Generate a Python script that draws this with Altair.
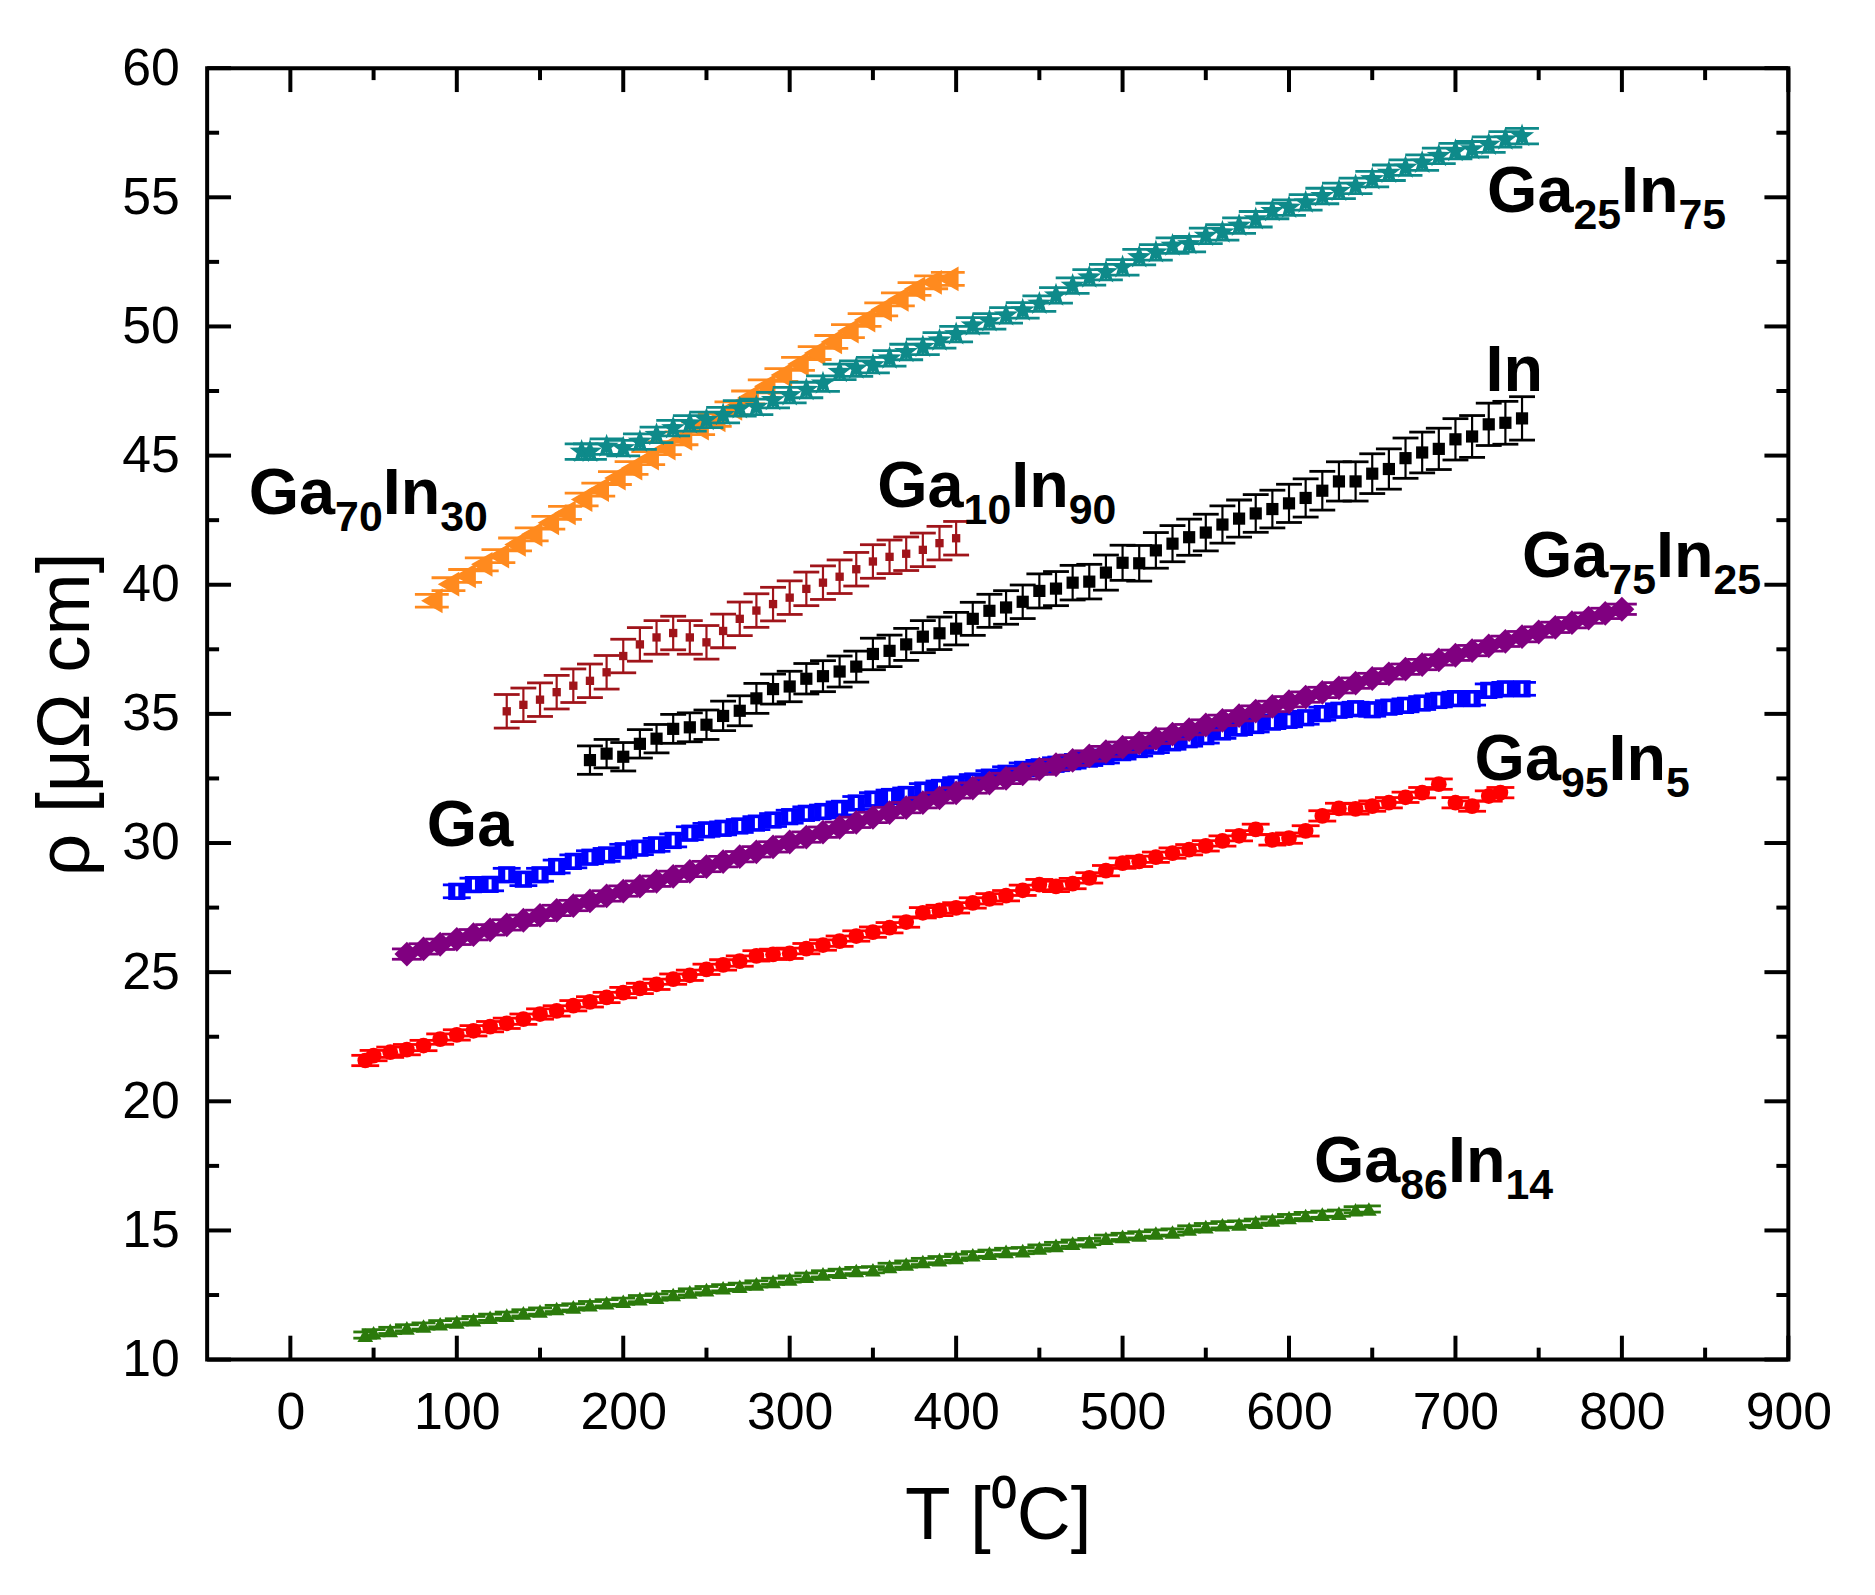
import altair as alt
import pandas as pd

# ---------------- data ----------------
T_GA70IN30 = [85, 95, 105, 115, 125, 135, 145, 155, 165, 175, 185, 195, 205, 215, 225, 235,
              245, 255, 265, 275, 285, 295, 305, 315, 325, 335, 345, 355, 365, 375, 385, 395]
R_GA70IN30 = [39.38, 40.02, 40.34, 40.79, 41.11, 41.56, 41.95, 42.40, 42.78, 43.30, 43.68, 44.13,
              44.52, 44.90, 45.29, 45.67, 46.06, 46.38, 46.83, 47.25, 47.68, 48.12, 48.55, 48.97,
              49.40, 49.82, 50.25, 50.66, 51.05, 51.45, 51.71, 51.84]
E_GA70IN30 = 0.25

T_GA25IN75 = [175, 180, 190, 200, 210, 220, 230, 240, 250, 260, 270, 280, 290, 300, 310, 320, 330,
              340, 350, 360, 370, 380, 390, 400, 410, 420, 430, 440, 450, 460, 470, 480, 490, 500,
              510, 520, 530, 540, 550, 560, 570, 580, 590, 600, 610, 620, 630, 640, 650, 660, 670,
              680, 690, 700, 710, 720, 730, 740]
R_GA25IN75 = [45.15, 45.15, 45.35, 45.29, 45.54, 45.80, 46.06, 46.25, 46.38, 46.57, 46.83, 46.89,
              47.15, 47.34, 47.54, 47.79, 48.24, 48.37, 48.50, 48.76, 49.01, 49.21, 49.46, 49.70,
              50.04, 50.20, 50.43, 50.62, 50.88, 51.20, 51.58, 51.90, 52.10, 52.29, 52.68, 52.87,
              53.13, 53.19, 53.51, 53.64, 53.90, 54.15, 54.47, 54.60, 54.80, 55.05, 55.25, 55.44,
              55.70, 55.95, 56.15, 56.34, 56.60, 56.79, 56.86, 57.04, 57.24, 57.37]
E_GA25IN75 = 0.3

T_GA10IN90 = [130, 140, 150, 160, 170, 180, 190, 200, 210, 220, 230, 240, 250, 260, 270, 280,
              290, 300, 310, 320, 330, 340, 350, 360, 370, 380, 390, 400]
R_GA10IN90 = [35.10, 35.35, 35.55, 35.84, 36.09, 36.28, 36.61, 37.24, 37.69, 37.96, 38.13, 37.96,
              37.77, 38.21, 38.68, 39.00, 39.25, 39.50, 39.84, 40.08, 40.31, 40.60, 40.90, 41.08,
              41.20, 41.35, 41.61, 41.80]
E_GA10IN90 = 0.65

T_IN = [180, 190, 200, 210, 220, 230, 240, 250, 260, 270, 280, 290, 300, 310, 320, 330, 340, 350,
        360, 370, 380, 390, 400, 410, 420, 430, 440, 450, 460, 470, 480, 490, 500, 510, 520, 530,
        540, 550, 560, 570, 580, 590, 600, 610, 620, 630, 640, 650, 660, 670, 680, 690, 700, 710,
        720, 730, 740]
R_IN = [33.21, 33.46, 33.34, 33.84, 34.04, 34.42, 34.48, 34.58, 34.92, 35.12, 35.60, 35.96, 36.06,
        36.36, 36.46, 36.64, 36.83, 37.32, 37.44, 37.69, 37.99, 38.12, 38.30, 38.68, 38.99, 39.12,
        39.34, 39.76, 39.85, 40.08, 40.12, 40.47, 40.85, 40.83, 41.33, 41.59, 41.84, 42.02, 42.33,
        42.56, 42.76, 42.93, 43.15, 43.36, 43.64, 44.00, 44.00, 44.30, 44.48, 44.90, 45.12, 45.26,
        45.63, 45.74, 46.21, 46.27, 46.44]
E_IN = [0.55, 0.55, 0.55, 0.55, 0.55, 0.56, 0.56, 0.57, 0.57, 0.58, 0.58, 0.58, 0.59,
        0.59, 0.60, 0.60, 0.60, 0.61, 0.61, 0.62, 0.62, 0.63, 0.63, 0.64, 0.64, 0.65, 0.65, 0.66,
        0.66, 0.67, 0.67, 0.68, 0.68, 0.69, 0.69, 0.70, 0.70, 0.71, 0.72, 0.72, 0.73, 0.73, 0.74,
        0.74, 0.75, 0.76, 0.76, 0.77, 0.78, 0.78, 0.79, 0.80, 0.80, 0.81, 0.82, 0.83, 0.84]

T_GA = [100, 110, 120, 130, 140, 150, 160, 170, 180, 190, 200, 210, 220, 230, 240, 250, 260, 270,
        280, 290, 300, 310, 320, 330, 340, 350, 360, 370, 380, 390, 400, 410, 420, 430, 440, 450,
        460, 470, 480, 490, 500, 510, 520, 530, 540, 550, 560, 570, 580, 590, 600, 610, 620, 630,
        640, 650, 660, 670, 680, 690, 700, 710, 720, 730, 740]
R_GA = [28.13, 28.39, 28.40, 28.77, 28.60, 28.77, 29.09, 29.29, 29.45, 29.54, 29.70, 29.80, 29.93,
        30.10, 30.38, 30.51, 30.57, 30.66, 30.77, 30.89, 31.02, 31.15, 31.22, 31.34, 31.55, 31.70,
        31.80, 31.88, 32.05, 32.15, 32.28, 32.40, 32.55, 32.70, 32.85, 32.95, 33.05, 33.15, 33.25,
        33.35, 33.50, 33.62, 33.75, 33.88, 34.00, 34.12, 34.30, 34.45, 34.55, 34.68, 34.75, 34.85,
        35.01, 35.14, 35.20, 35.16, 35.26, 35.33, 35.42, 35.52, 35.59, 35.59, 35.91, 35.97, 35.97]
E_GA = 0.25

T_GA75IN25 = [70, 80, 90, 100, 110, 120, 130, 140, 150, 160, 170, 180, 190, 200, 210, 220, 230, 240,
              250, 260, 270, 280, 290, 300, 310, 320, 330, 340, 350, 360, 370, 380, 390, 400, 410,
              420, 430, 440, 450, 460, 470, 480, 490, 500, 510, 520, 530, 540, 550, 560, 570, 580,
              590, 600, 610, 620, 630, 640, 650, 660, 670, 680, 690, 700, 710, 720, 730, 740, 750,
              760, 770, 780, 790, 800]
R_GA75IN25 = [25.70, 25.90, 26.08, 26.27, 26.45, 26.64, 26.83, 27.01, 27.20, 27.39, 27.58, 27.76,
              27.95, 28.14, 28.33, 28.52, 28.71, 28.90, 29.09, 29.28, 29.47, 29.66, 29.85, 30.04,
              30.23, 30.42, 30.61, 30.80, 30.99, 31.18, 31.37, 31.56, 31.75, 31.94, 32.13, 32.32,
              32.50, 32.68, 32.86, 33.03, 33.20, 33.37, 33.54, 33.71, 33.88, 34.05, 34.22, 34.39,
              34.57, 34.75, 34.93, 35.11, 35.29, 35.47, 35.65, 35.83, 36.01, 36.19, 36.37, 36.55,
              36.73, 36.91, 37.09, 37.27, 37.45, 37.63, 37.81, 37.99, 38.17, 38.35, 38.53, 38.71,
              38.89, 39.05]
E_GA75IN25 = 0.2

T_GA95IN5 = [45, 50, 60, 70, 80, 90, 100, 110, 120, 130, 140, 150, 160, 170, 180, 190, 200, 210,
             220, 230, 240, 250, 260, 270, 280, 290, 300, 310, 320, 330, 340, 350, 360, 370, 380,
             390, 400, 410, 420, 430, 440, 450, 460, 470, 480, 490, 500, 510, 520, 530, 540, 550,
             560, 570, 580, 590, 600, 610, 620, 630, 640, 650, 660, 670, 680, 690, 700, 710, 720, 727]
R_GA95IN5 = [21.58, 21.77, 21.90, 22.00, 22.16, 22.41, 22.57, 22.73, 22.89, 23.02, 23.18, 23.38,
             23.50, 23.70, 23.85, 24.02, 24.21, 24.37, 24.53, 24.73, 24.88, 25.11, 25.28, 25.43,
             25.63, 25.69, 25.73, 25.91, 26.05, 26.20, 26.40, 26.55, 26.72, 26.94, 27.30, 27.39,
             27.49, 27.68, 27.84, 27.96, 28.17, 28.39, 28.32, 28.43, 28.65, 28.93, 29.22, 29.29,
             29.45, 29.61, 29.74, 29.89, 30.08, 30.28, 30.53, 30.12, 30.19, 30.47, 31.05, 31.34,
             31.32, 31.43, 31.56, 31.77, 31.95, 32.28, 31.56, 31.43, 31.82, 31.95]
E_GA95IN5 = 0.2

T_GA86IN14 = [45, 50, 60, 70, 80, 90, 100, 110, 120, 130, 140, 150, 160, 170, 180, 190, 200, 210,
              220, 230, 240, 250, 260, 270, 280, 290, 300, 310, 320, 330, 340, 350, 360, 370, 380,
              390, 400, 410, 420, 430, 440, 450, 460, 470, 480, 490, 500, 510, 520, 530, 540, 550,
              560, 570, 580, 590, 600, 610, 620, 630, 640, 648]
R_GA86IN14 = [10.95, 11.04, 11.13, 11.23, 11.30, 11.39, 11.46, 11.55, 11.64, 11.72, 11.81, 11.88,
              11.98, 12.04, 12.13, 12.20, 12.26, 12.36, 12.42, 12.52, 12.62, 12.71, 12.78, 12.84,
              12.93, 13.03, 13.12, 13.23, 13.32, 13.38, 13.45, 13.48, 13.61, 13.70, 13.80, 13.87,
              13.96, 14.06, 14.12, 14.19, 14.22, 14.32, 14.42, 14.51, 14.57, 14.70, 14.77, 14.83,
              14.90, 14.94, 15.06, 15.15, 15.22, 15.25, 15.32, 15.41, 15.50, 15.58, 15.63, 15.67,
              15.80, 15.83]
E_GA86IN14 = 0.12

# axis tick values
X_MAJOR = [0, 100, 200, 300, 400, 500, 600, 700, 800, 900]
X_MINOR = [50, 150, 250, 350, 450, 550, 650, 750, 850]
Y_MAJOR = [10, 15, 20, 25, 30, 35, 40, 45, 50, 55, 60]
Y_MINOR = [12.5, 17.5, 22.5, 27.5, 32.5, 37.5, 42.5, 47.5, 52.5, 57.5]

# labels: (parts (text, is_subscript), anchor T, anchor rho)
LABELS = [
    ([("Ga", 0), ("70", 1), ("In", 0), ("30", 1)], -25, 42.75),
    ([("Ga", 0), ("10", 1), ("In", 0), ("90", 1)], 352.6, 43.02),
    ([("In", 0)], 718, 47.5),
    ([("Ga", 0), ("25", 1), ("In", 0), ("75", 1)], 719, 54.43),
    ([("Ga", 0), ("75", 1), ("In", 0), ("25", 1)], 740, 40.3),
    ([("Ga", 0), ("95", 1), ("In", 0), ("5", 1)], 711.5, 32.44),
    ([("Ga", 0)], 82, 29.9),
    ([("Ga", 0), ("86", 1), ("In", 0), ("14", 1)], 615, 16.88),
]

# ---------------- styling ----------------
W, H = 1588, 1297
FONT = "Liberation Sans"
STAR = ("M0,-1L0.235,-0.324L0.951,-0.309L0.38,0.124L0.588,0.809L0,0.4"
        "L-0.588,0.809L-0.38,0.124L-0.951,-0.309L-0.235,-0.324Z")
xs = alt.Scale(domain=[-50, 900], nice=False, zero=False)
ys = alt.Scale(domain=[10, 60], nice=False, zero=False)

# (T, R, err, color, shape, size, cap width)
SERIES = [
    (T_GA86IN14, R_GA86IN14, E_GA86IN14, "#2B7A0B", "triangle-up", 250, 24),
    (T_GA95IN5, R_GA95IN5, E_GA95IN5, "#FF0000", "circle", 250, 28),
    (T_GA, R_GA, E_GA, "#0000FF", "square", 300, 28),
    (T_GA75IN25, R_GA75IN25, E_GA75IN25, "#800080", "diamond", 620, 30),
    (T_IN, R_IN, E_IN, "#000000", "square", 150, 26),
    (T_GA10IN90, R_GA10IN90, E_GA10IN90, "#A0141A", "square", 70, 26),
    (T_GA70IN30, R_GA70IN30, E_GA70IN30, "#FF8A1E", "triangle-left", 620, 34),
    (T_GA25IN75, R_GA25IN75, E_GA25IN75, "#0E8A8A", STAR, 650, 34),
]

xaxis = alt.Axis(values=X_MAJOR, title="T [⁰C]", format="d", labelFont=FONT, labelFontSize=52,
                 labelColor="black", labelPadding=28, labelFlush=False, labelOverlap=False,
                 domain=False, grid=False, ticks=True, tickSize=0, tickWidth=0,
                 titleFont=FONT, titleFontSize=75, titleFontWeight="normal", titleColor="black",
                 titlePadding=42)
yaxis = alt.Axis(values=Y_MAJOR, title="ρ [μΩ cm]", format="d", labelFont=FONT, labelFontSize=52,
                 labelColor="black", labelPadding=28, labelFlush=False, labelOverlap=False,
                 domain=False, grid=False, ticks=True, tickSize=0, tickWidth=0,
                 titleFont=FONT, titleFontSize=75, titleFontWeight="normal", titleColor="black",
                 titlePadding=17)


def X(field):
    return alt.X(field, scale=xs, axis=xaxis)


def Y(field):
    return alt.Y(field, scale=ys, axis=yaxis)


def vdf(lst):
    return pd.DataFrame({"v": lst})


layers = []
tick_rule = dict(color="black", strokeWidth=4)
# bottom / top x ticks (pointing inward)
layers.append(alt.Chart(vdf(X_MAJOR)).mark_rule(**tick_rule).encode(
    x=X("v:Q"), y=alt.value(H), y2=alt.value(H - 24)))
layers.append(alt.Chart(vdf(X_MAJOR)).mark_rule(**tick_rule).encode(
    x=X("v:Q"), y=alt.value(0), y2=alt.value(24)))
layers.append(alt.Chart(vdf(X_MINOR)).mark_rule(**tick_rule).encode(
    x=X("v:Q"), y=alt.value(H), y2=alt.value(H - 12)))
layers.append(alt.Chart(vdf(X_MINOR)).mark_rule(**tick_rule).encode(
    x=X("v:Q"), y=alt.value(0), y2=alt.value(12)))
# left / right y ticks
layers.append(alt.Chart(vdf(Y_MAJOR)).mark_rule(**tick_rule).encode(
    y=Y("v:Q"), x=alt.value(0), x2=alt.value(24)))
layers.append(alt.Chart(vdf(Y_MAJOR)).mark_rule(**tick_rule).encode(
    y=Y("v:Q"), x=alt.value(W), x2=alt.value(W - 24)))
layers.append(alt.Chart(vdf(Y_MINOR)).mark_rule(**tick_rule).encode(
    y=Y("v:Q"), x=alt.value(0), x2=alt.value(12)))
layers.append(alt.Chart(vdf(Y_MINOR)).mark_rule(**tick_rule).encode(
    y=Y("v:Q"), x=alt.value(W), x2=alt.value(W - 12)))

# ---- data series ----
for T, R, E, color, shape, size, cap in SERIES:
    errs = E if isinstance(E, list) else [E] * len(T)
    rows = [{"T": t, "R": r, "lo": r - e, "hi": r + e} for t, r, e in zip(T, R, errs)]
    base = alt.Chart(pd.DataFrame(rows))
    layers.append(base.mark_rule(color=color, strokeWidth=2.2).encode(
        x=X("T:Q"), y=Y("lo:Q"), y2="hi:Q"))
    for col in ("lo", "hi"):
        layers.append(base.mark_tick(color=color, orient="horizontal", size=cap,
                                     thickness=2.8, opacity=1).encode(
            x=X("T:Q"), y=Y(f"{col}:Q")))
    layers.append(base.mark_point(shape=shape, size=size, filled=True, color=color,
                                  opacity=1, strokeWidth=1).encode(
        x=X("T:Q"), y=Y("R:Q")))
    if color == "#0000FF":
        layers.append(base.mark_tick(color="white", orient="vertical", size=10,
                                     thickness=3, opacity=1).encode(
            x=X("T:Q"), y=Y("R:Q")))

# ---- labels ----
ADV = {"G": 0.778, "a": 0.556, "I": 0.278, "n": 0.611}
MAIN, SUB = 65, 43
for parts, t, r in LABELS:
    off = 0.0
    for text, is_sub in parts:
        fs = SUB if is_sub else MAIN
        d = pd.DataFrame({"T": [t], "R": [r], "s": [text]})
        layers.append(alt.Chart(d).mark_text(
            align="left", baseline="alphabetic", font=FONT, fontWeight="bold",
            fontSize=fs, dx=off, dy=17 if is_sub else 0, color="black").encode(
            x=X("T:Q"), y=Y("R:Q"), text="s:N"))
        off += sum(ADV.get(c, 0.556) for c in text) * fs

chart = alt.layer(*layers).properties(
    width=W, height=H,
    background="white",
    padding={"left": 200, "top": 57, "right": 79, "bottom": 233},
    autosize=alt.AutoSizeParams(type="none"),
).configure_view(stroke="black", strokeWidth=4)

chart.save("out.html", embed_options={"renderer": "svg", "actions": False})
